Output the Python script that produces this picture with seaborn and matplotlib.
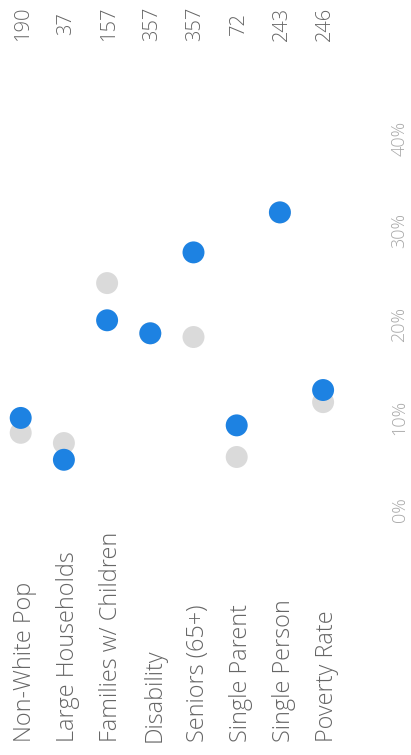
import matplotlib
matplotlib.use("Agg")
import matplotlib.pyplot as plt
import seaborn as sns
import pandas as pd
from matplotlib.ticker import FuncFormatter

# data (percent)
categories = ["Non-White Pop", "Large Households", "Families w/ Children", "Disability",
              "Seniors (65+)", "Single Parent", "Single Person", "Poverty Rate"]
area_pct = [9.9, 5.4, 20.4, 19.0, 27.7, 9.1, 32.0, 12.9]
benchmark_pct = [8.3, 7.2, 24.4, 19.0, 18.6, 5.7, 32.0, 11.6]
counts = [190, 37, 157, 357, 357, 72, 243, 246]
y_ticks = [0, 10, 20, 30, 40]

df = pd.DataFrame({"category": categories, "area": area_pct, "benchmark": benchmark_pct})

sns.set_style("white")
plt.rcParams["font.family"] = ["Open Sans", "DejaVu Sans"]

W, H = 411, 755
fig = plt.figure(figsize=(W / 100, H / 100), dpi=100)
# axes in pixel terms: x 0..385, y 100..545 (from top)
ax = fig.add_axes([0, (H - 545) / H, 385 / W, 445 / H])

sns.scatterplot(data=df, x="category", y="benchmark", color="#dadada", s=250,
                edgecolor="none", ax=ax, zorder=2)
sns.scatterplot(data=df, x="category", y="area", color="#1d82e2", s=250,
                edgecolor="none", ax=ax, zorder=3)

px_per_cat = 43.2
ax.set_xlim(-20.7 / px_per_cat, -20.7 / px_per_cat + 385 / px_per_cat)
px_per_pct = 9.3
ax.set_ylim((510 - 545) / px_per_pct, (510 - 100) / px_per_pct)

ax.set_xticks([])
ax.set_xlabel("")
ax.set_ylabel("")
ax.yaxis.tick_right()
ax.set_yticks(y_ticks)
ax.yaxis.set_major_formatter(FuncFormatter(lambda v, p: f"{v:.0f}%"))
ax.tick_params(axis="y", length=0, pad=4, labelsize=13, labelcolor="#a8a8a8")
for lab in ax.get_yticklabels():
    lab.set_rotation(90)
    lab.set_va("center")
    lab.set_fontweight("light")
sns.despine(ax=ax, left=True, bottom=True, right=True, top=True)

# category labels at the bottom, counts on top (rotated)
for i, (cat, n) in enumerate(zip(categories, counts)):
    xf = (20.7 + i * px_per_cat) / W
    fig.text(xf + 4 / W, (H - 742) / H, cat, rotation=90, ha="center", va="bottom",
             fontsize=16.8, color="#666666", fontweight="light")
    fig.text(xf + 2 / W, (H - 24) / H, str(n), rotation=90, ha="center", va="center",
             fontsize=14.5, color="#666666", fontweight="light")

fig.savefig("out.png", dpi=100)
